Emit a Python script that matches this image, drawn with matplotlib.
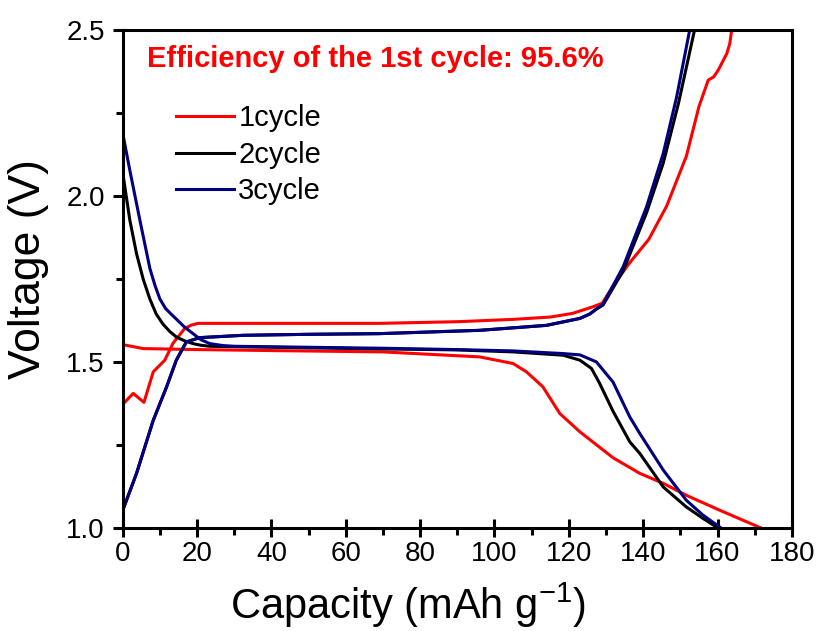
import matplotlib.pyplot as plt

plt.rcParams['font.family'] = ['Liberation Sans', 'DejaVu Sans']
plt.rcParams['mathtext.default'] = 'regular'

# 1st cycle
c1_cap = [0, 2.8, 5.7, 8.2, 11.3, 13.5, 16.7, 18.5, 20.3, 32, 50, 69, 90, 105, 115, 121, 126.5,
          129, 132.5, 136.4, 141.5, 146.3, 151.6, 155, 157.5, 159, 160.2, 162.5, 163.3, 163.8]
c1_v = [1.373, 1.406, 1.379, 1.471, 1.506, 1.557, 1.602, 1.612, 1.617, 1.617, 1.617, 1.617,
        1.622, 1.629, 1.636, 1.647, 1.667, 1.678, 1.74, 1.80, 1.87, 1.97, 2.12, 2.27, 2.35,
        2.36, 2.38, 2.43, 2.46, 2.5]
d1_cap = [0, 5.5, 20, 40, 70, 96, 105, 108.6, 113, 117.6, 123, 131.9, 139.1, 145.4, 151.6,
          160.6, 171.8]
d1_v = [1.553, 1.541, 1.538, 1.535, 1.531, 1.516, 1.496, 1.471, 1.426, 1.345, 1.29, 1.212,
        1.165, 1.135, 1.099, 1.054, 1.0]

# 2nd cycle
c2_cap = [0, 3.7, 8.2, 11.8, 14.4, 17.1, 20.7, 32.4, 50, 69, 96, 114, 123, 125.6, 127.4,
          129.2, 134.6, 140.9, 145.4, 149.5, 153.8]
c2_v = [1.054, 1.165, 1.325, 1.426, 1.506, 1.561, 1.574, 1.581, 1.584, 1.586, 1.596, 1.611,
        1.632, 1.645, 1.66, 1.672, 1.775, 1.95, 2.10, 2.28, 2.5]
d2_cap = [0, 1.9, 3.7, 5.5, 7.3, 9, 10.8, 12.6, 14.4, 16.5, 18.9, 21, 23.4, 40, 70, 90, 105,
          118.5, 123, 126.1, 128.3, 131.9, 136.4, 139.1, 145.4, 151.6, 156, 160.2]
d2_v = [2.07, 1.928, 1.827, 1.75, 1.69, 1.645, 1.615, 1.593, 1.576, 1.565, 1.556, 1.551,
        1.548, 1.545, 1.54, 1.537, 1.531, 1.521, 1.506, 1.481, 1.436, 1.352, 1.26, 1.225,
        1.124, 1.064, 1.03, 1.0]

# 3rd cycle
c3_cap = [0, 3.7, 8.2, 11.8, 14.4, 17.1, 20.7, 32.4, 50, 69, 96, 114, 123, 125.6, 127.4,
          129.2, 134.6, 140.9, 145.4, 149, 152.5]
c3_v = [1.054, 1.165, 1.325, 1.426, 1.506, 1.561, 1.574, 1.581, 1.584, 1.586, 1.596, 1.611,
        1.632, 1.645, 1.66, 1.675, 1.787, 1.968, 2.129, 2.299, 2.5]
d3_cap = [0, 1.9, 4.6, 7.3, 8.7, 10, 11.5, 13, 14.4, 16.5, 18.9, 21, 23.4, 27, 30, 50, 70,
          90, 105, 118.5, 123, 127.4, 131.9, 136.4, 139.1, 145.4, 151.6, 156, 161]
d3_v = [2.189, 2.078, 1.928, 1.782, 1.73, 1.69, 1.662, 1.645, 1.63, 1.607, 1.586, 1.568,
        1.556, 1.55, 1.548, 1.545, 1.542, 1.538, 1.534, 1.526, 1.522, 1.501, 1.44, 1.335,
        1.285, 1.175, 1.084, 1.04, 1.0]

labels = ['1cycle', '2cycle', '3cycle']
colors = ['#ff0000', '#000000', '#000080']

fig = plt.figure(figsize=(8.24, 6.31), dpi=100)
ax = fig.add_axes([0.149, 0.163, 0.812, 0.789])

lw = 2.2
ax.plot(c1_cap, c1_v, color=colors[0], lw=lw, label=labels[0])
ax.plot(d1_cap, d1_v, color=colors[0], lw=lw)
ax.plot(c2_cap, c2_v, color=colors[1], lw=lw, label=labels[1])
ax.plot(d2_cap, d2_v, color=colors[1], lw=lw)
ax.plot(c3_cap, c3_v, color=colors[2], lw=lw, label=labels[2])
ax.plot(d3_cap, d3_v, color=colors[2], lw=lw)

ax.set_xlim(0, 180)
ax.set_ylim(1.0, 2.5)
ax.set_xticks(range(0, 181, 20))
ax.set_xticks(range(10, 180, 20), minor=True)
ax.set_yticks([1.0, 1.5, 2.0, 2.5])
ax.set_yticks([1.25, 1.75, 2.25], minor=True)

for s in ax.spines.values():
    s.set_linewidth(2.2)
ax.tick_params(axis='x', which='major', direction='inout', length=13, width=2.2,
               labelsize=20, pad=3)
ax.tick_params(axis='x', which='minor', direction='out', length=5, width=2.2)
ax.tick_params(axis='y', which='major', direction='out', length=7, width=2.2,
               labelsize=20, pad=6)
ax.tick_params(axis='y', which='minor', direction='out', length=5, width=2.2)

ax.set_xlabel('Capacity (mAh g$^{-1}$)', fontsize=30)
ax.set_ylabel('Voltage (V)', fontsize=32)
ax.xaxis.set_label_coords(0.426, -0.106)
ax.yaxis.set_label_coords(-0.11, 0.52)

ax.text(0.036, 0.943, 'Efficiency of the 1st cycle: 95.6%', transform=ax.transAxes,
        color='#ff0000', fontsize=21, fontweight='bold', va='center', ha='left')

ax.legend(loc='upper left', bbox_to_anchor=(0.079, 0.852), frameon=False, fontsize=21,
          handlelength=2.0, handletextpad=0.15, labelspacing=0.3, borderaxespad=0,
          borderpad=0)

fig.savefig('out.png', dpi=100)
